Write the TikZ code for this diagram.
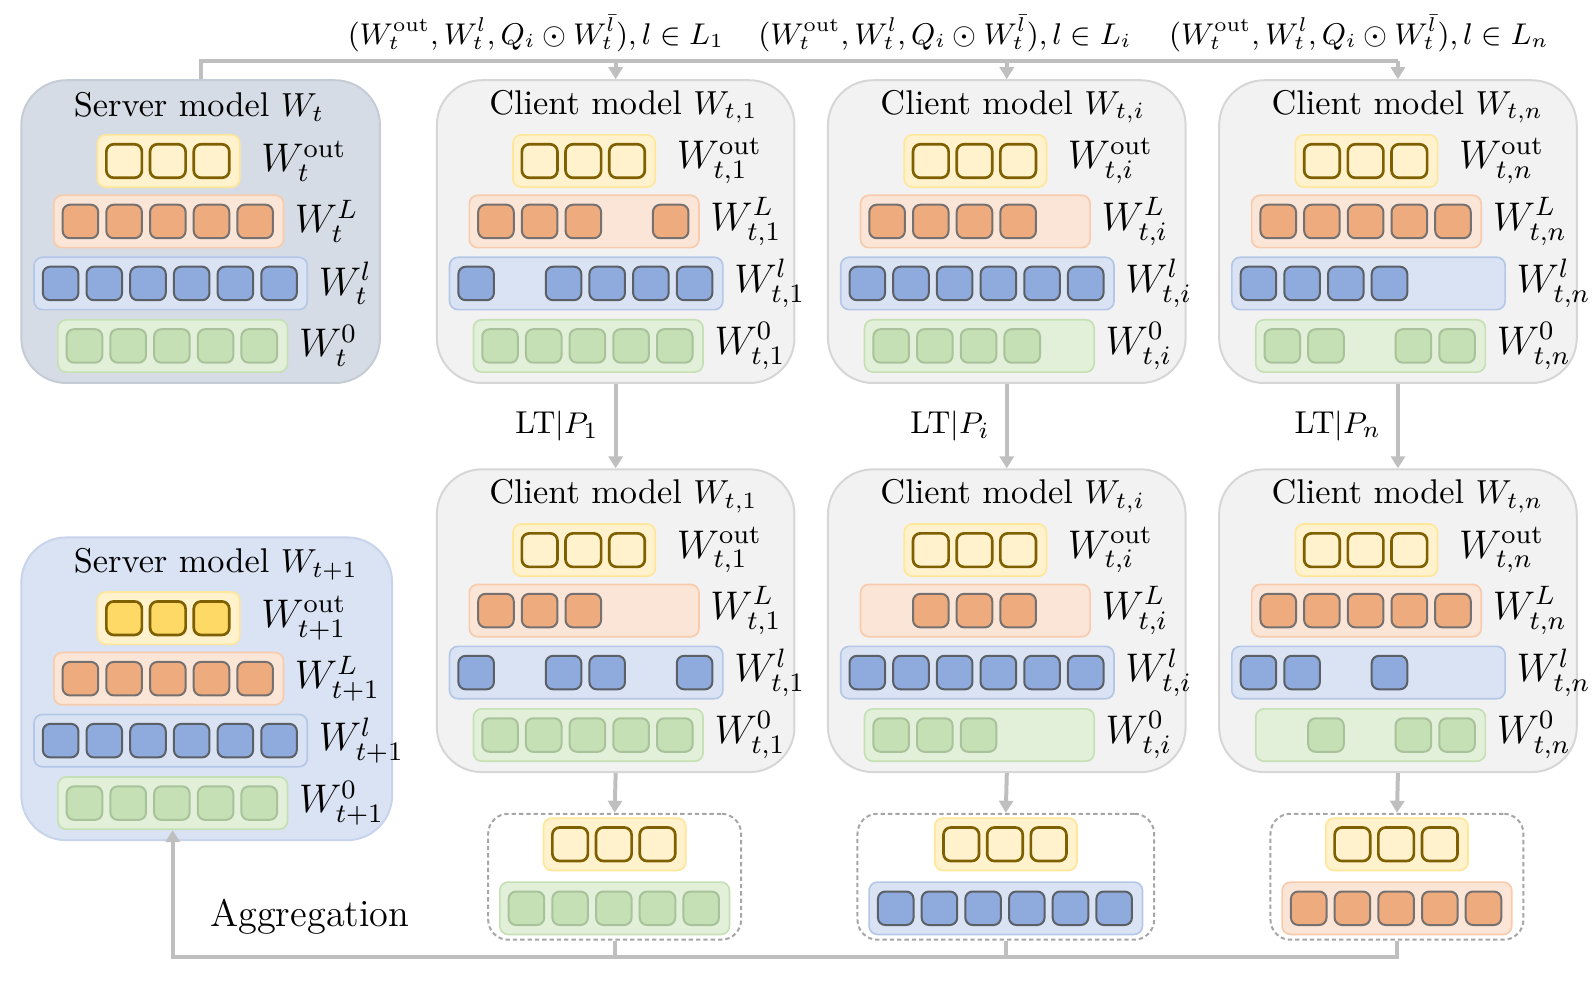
\documentclass[tikz,border=0pt]{standalone}
\usetikzlibrary{calc}
\usetikzlibrary{arrows.meta}

\newcommand\pxu{0.305pt}

\definecolor{srvgray}{HTML}{D6DCE5}
\definecolor{srvgrayline}{HTML}{C6CCD6}
\definecolor{srvblue}{HTML}{DAE3F3}
\definecolor{srvblueline}{HTML}{C8D4EC}
\definecolor{cltgray}{HTML}{F2F2F2}
\definecolor{cltgrayline}{HTML}{D6D6D6}
\definecolor{yfill}{HTML}{FFF2CC}
\definecolor{yline}{HTML}{FFE699}
\definecolor{ycellline}{HTML}{7F6000}
\colorlet{ycellfill}{yfill}
\definecolor{gold}{HTML}{FFD966}
\definecolor{ofill}{HTML}{FBE5D6}
\definecolor{oline}{HTML}{F8CBAD}
\definecolor{ocellfill}{HTML}{EEAB7E}
\definecolor{ocellline}{HTML}{767171}
\definecolor{bfill}{HTML}{DAE3F3}
\definecolor{bline}{HTML}{B4C7E7}
\definecolor{bcellfill}{HTML}{8FAADC}
\definecolor{bcellline}{HTML}{5B5F66}
\definecolor{gfill}{HTML}{E2F0D9}
\definecolor{gline}{HTML}{C5E0B4}
\definecolor{gcellfill}{HTML}{C5E0B4}
\definecolor{gcellline}{HTML}{A9C29B}
\definecolor{flowgray}{HTML}{BFBFBF}
\definecolor{dashgray}{HTML}{A6A6A6}

\tikzset{
	mbox/.style={draw, line width=0.6pt, rounded corners=13.5pt, minimum width=352*\pxu, minimum height=298*\pxu, anchor=north west, inner sep=0pt},
	srvbox/.style={mbox, fill=srvgray, draw=srvgrayline, minimum width=353*\pxu},
	srvboxnext/.style={mbox, fill=srvblue, draw=srvblueline, minimum width=365*\pxu},
	cltbox/.style={mbox, fill=cltgray, draw=cltgrayline},
	dashbox/.style={draw=dashgray, fill=white, line width=0.6pt, dash pattern=on 1.3pt off 0.9pt, rounded corners=6pt, minimum height=124*\pxu, anchor=north, inner sep=0pt},
	lay/.style={draw, line width=0.5pt, rounded corners=2.5pt, minimum height=51.5*\pxu, inner sep=0pt},
	ylay/.style={lay, fill=yfill, draw=yline},
	olay/.style={lay, fill=ofill, draw=oline},
	blay/.style={lay, fill=bfill, draw=bline},
	glay/.style={lay, fill=gfill, draw=gline},
	cell/.style={draw, line width=0.6pt, rounded corners=2.2pt, minimum width=35*\pxu, minimum height=33*\pxu, inner sep=0pt},
	ycell/.style={cell, fill=ycellfill, draw=ycellline, line width=0.8pt},
	ocell/.style={cell, fill=ocellfill, draw=ocellline},
	bcell/.style={cell, fill=bcellfill, draw=bcellline},
	gcell/.style={cell, fill=gcellfill, draw=gcellline},
	title/.style={anchor=west, inner sep=0pt, font=\fontsize{10.3}{12}\selectfont},
	lab/.style={anchor=west, inner sep=0pt, font=\fontsize{11.5}{13}\selectfont},
	toplab/.style={inner sep=0pt, font=\fontsize{9.1}{11}\selectfont},
	ltlab/.style={midway, anchor=east, xshift=-4.5pt, inner sep=0pt, font=\fontsize{9.5}{11}\selectfont},
	agglab/.style={anchor=base, inner sep=0pt, font=\fontsize{11.5}{13}\selectfont},
	flow/.style={draw=flowgray, line width=1.2pt},
	flowtip/.style={-{Triangle[width=4.2pt,length=3.6pt]}}
}

% one layer: name, centre, slots, colour letter, filled slots
\newcommand\cellrow[5]{%
	\node[#4lay, minimum width=#3*43*\pxu+11*\pxu] (#1) at (#2) {};
	\foreach \k in {#5} {\node[#4cell] (#1-\k) at ($(#1.west)+({5.5+43*(\k-0.5)},0)$) {};}
}

% one model: name, left, top, style, word, index, orange, blue, green slots
\newcommand\model[9]{%
	\node[#4] (#1) at (#2,#3) {};
	\node[title] (#1-t) at (#2+52,#3+27) {#5 model $W_{#6}$};
	\cellrow{#1-y}{#2+146,#3+80.5}{3}{y}{1,2,3}
	\cellrow{#1-o}{#2+146,#3+140}{5}{o}{#7}
	\cellrow{#1-b}{#2+148,#3+201}{6}{b}{#8}
	\cellrow{#1-g}{#2+150,#3+262.5}{5}{g}{#9}
	\node[lab] (#1-yl) at ([xshift=6pt]#1-y.east) {$W_{#6}^{\mathrm{out}}$};
	\node[lab] (#1-ol) at ([xshift=3pt]#1-o.east) {$W_{#6}^{L}$};
	\node[lab] (#1-bl) at ([xshift=3pt]#1-b.east) {$W_{#6}^{l}$};
	\node[lab] (#1-gl) at ([xshift=3pt]#1-g.east) {$W_{#6}^{0}$};
}

% uploaded part: name, centre x, top, colour letter, slots
\newcommand\upload[5]{%
	\node[dashbox, minimum width=#5*43*\pxu+34*\pxu] (#1) at (#2,#3) {};
	\cellrow{#1-y}{#2,#3+31}{3}{y}{1,2,3}
	\cellrow{#1-#4}{#2,#3+94}{#5}{#4}{1,...,#5}
}

\begin{document}
\begin{tikzpicture}[x=\pxu, y=-\pxu]

	\useasboundingbox (0,0) rectangle (1568,973.5);

	\model{S0}{20}{78}{srvbox}{Server}{t}{1,...,5}{1,...,6}{1,...,5}
	\model{C1}{429}{78}{cltbox}{Client}{t,1}{1,2,3,5}{1,3,4,5,6}{1,...,5}
	\model{C2}{814}{78}{cltbox}{Client}{t,i}{1,2,3,4}{1,...,6}{1,2,3,4}
	\model{C3}{1199}{78}{cltbox}{Client}{t,n}{1,...,5}{1,2,3,4}{1,2,4,5}

	\model{E1}{429}{461}{cltbox}{Client}{t,1}{1,2,3}{1,3,4,6}{1,...,5}
	\model{E2}{814}{461}{cltbox}{Client}{t,i}{2,3,4}{1,...,6}{1,2,3}
	\model{E3}{1199}{461}{cltbox}{Client}{t,n}{1,...,5}{1,2,4}{2,4,5}

	\begin{scope}
		\colorlet{ycellfill}{gold}
		\model{S1}{20}{528}{srvboxnext}{Server}{t+1}{1,...,5}{1,...,6}{1,...,5}
	\end{scope}

	\upload{D1}{605}{800}{g}{5}
	\upload{D2}{990}{800}{b}{6}
	\upload{D3}{1375}{800}{o}{5}

	\coordinate (top) at (0,60);
	\coordinate (base) at (0,942);

	\node[toplab] (send1) at (527.5,33) {$(W_t^{\mathrm{out}}, W_t^{l}, Q_i \odot W_t^{\bar{l}}), l \in L_1$};
	\node[toplab] (send2) at (930,33) {$(W_t^{\mathrm{out}}, W_t^{l}, Q_i \odot W_t^{\bar{l}}), l \in L_i$};
	\node[toplab] (send3) at (1337.5,33) {$(W_t^{\mathrm{out}}, W_t^{l}, Q_i \odot W_t^{\bar{l}}), l \in L_n$};

	\draw[flow] (S0.north) -- (S0.north |- top) -- (C3.north |- top);
	\draw[flow,flowtip] (C1.north |- top) -- (C1.north);
	\draw[flow,flowtip] (C2.north |- top) -- (C2.north);
	\draw[flow,flowtip] (C3.north |- top) -- (C3.north);

	\draw[flow,flowtip] (C1.south) -- node[ltlab] (lt1) {LT$|P_1$} (E1.north);
	\draw[flow,flowtip] (C2.south) -- node[ltlab] (lt2) {LT$|P_i$} (E2.north);
	\draw[flow,flowtip] (C3.south) -- node[ltlab] (lt3) {LT$|P_n$} (E3.north);

	\draw[flow,flowtip] (E1.south) -- (D1.north);
	\draw[flow,flowtip] (E2.south) -- (D2.north);
	\draw[flow,flowtip] (E3.south) -- (D3.north);

	\draw[flow] (D1.south) -- (D1.south |- base);
	\draw[flow] (D2.south) -- (D2.south |- base);
	\draw[flow,flowtip] (D3.south) -- (D3.south |- base) -- (S1-g.south |- base) -- (S1-g.south);

	\node[agglab] (agg) at (305,912) {Aggregation};

\end{tikzpicture}
\end{document}
